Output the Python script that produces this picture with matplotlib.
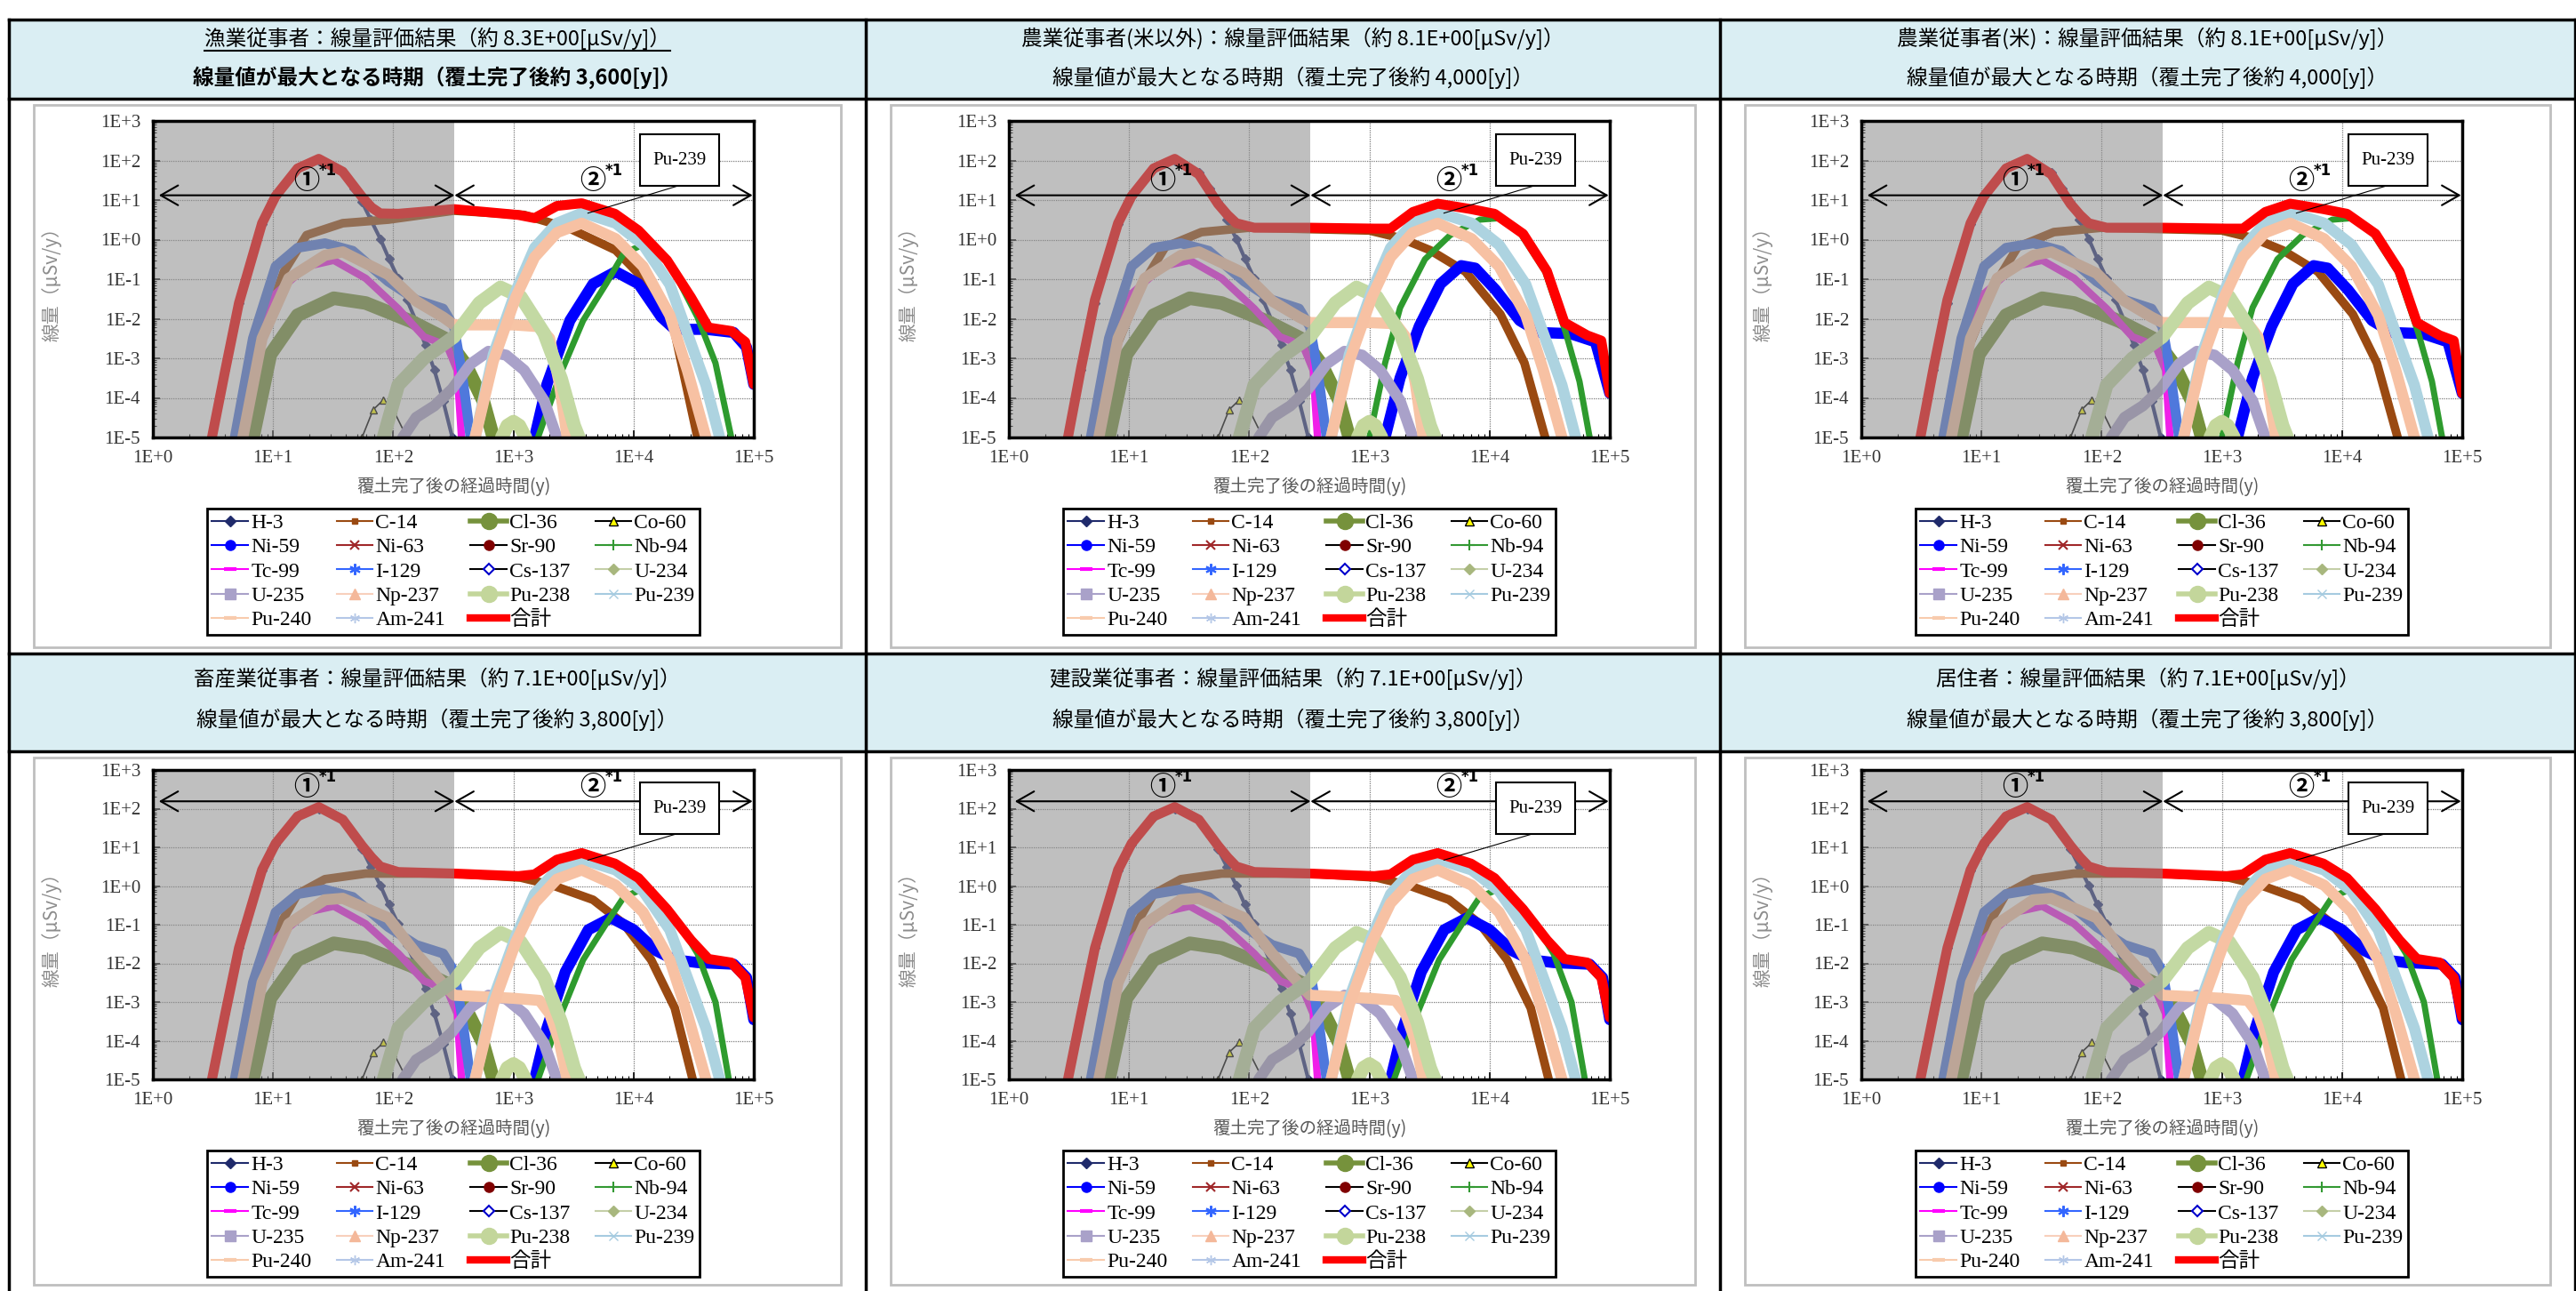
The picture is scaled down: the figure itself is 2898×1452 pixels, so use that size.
import numpy as np
import matplotlib
matplotlib.use('Agg')
import matplotlib.pyplot as plt
from matplotlib.lines import Line2D
from matplotlib.patches import Rectangle
from matplotlib.ticker import FixedLocator, FuncFormatter, LogLocator, NullFormatter

plt.rcParams['font.family'] = ['Noto Sans CJK JP', 'DejaVu Sans']

# ---- data (time in years, dose in uSv/y) ----
NUCLIDES = ['H-3', 'C-14', 'Cl-36', 'Co-60', 'Ni-59', 'Ni-63', 'Sr-90', 'Nb-94',
            'Tc-99', 'I-129', 'Cs-137', 'U-234', 'U-235', 'Np-237', 'Pu-238',
            'Pu-239', 'Pu-240', 'Am-241', '合計']

H3_T = [3.1, 4.0, 5.2, 8.1, 10.5, 16, 24, 38, 47, 55, 65, 78, 92, 110, 130, 155, 185, 220, 260, 310]
H3_D = [1e-5, 5e-4, 2.5e-2, 2.5, 12, 60, 95, 50, 20, 8.9, 3.2, 1.05, 0.33, 0.105, 0.03,
        8.7e-3, 2.2e-3, 5e-4, 8.5e-5, 1e-5]

CL36 = ([6.8, 9.5, 16, 32, 59, 140, 280, 400, 560, 680],
        [1e-5, 1.25e-3, 0.0123, 0.033, 0.025, 8.7e-3, 3e-3, 7e-4, 8.5e-5, 1e-5])
CO60 = ([55, 68, 83, 100, 130], [1e-5, 5e-5, 9e-5, 5e-5, 1e-5])
TC99 = ([5, 6.8, 10.5, 19, 32, 59, 110, 180, 280, 340, 370],
        [1e-5, 1.25e-3, 0.043, 0.21, 0.3, 0.105, 0.018, 3.5e-3, 2.1e-3, 5e-4, 1e-5])
I129 = ([4.8, 6.8, 10.5, 16, 27, 46, 91, 155, 260, 320, 370, 440],
        [1e-5, 3.2e-3, 0.21, 0.62, 0.81, 0.52, 0.087, 0.03, 0.018, 6.3e-3, 5e-4, 1e-5])
U234 = ([800, 890, 1000, 1120, 1260], [1e-5, 2e-5, 2.5e-5, 2e-5, 1e-5])
U235 = ([120, 155, 220, 310, 440, 620, 870, 1230, 1800, 2300],
        [1e-5, 3.2e-5, 6.3e-5, 1.7e-4, 7.2e-4, 1.5e-3, 1.2e-3, 5e-4, 8.5e-5, 1e-5])
PU238 = ([83, 110, 180, 320, 520, 780, 1150, 1800, 2500, 3200, 3500],
         [1e-5, 2.1e-4, 1e-3, 3.5e-3, 0.025, 0.062, 0.036, 4.3e-3, 3e-4, 2e-5, 1e-5])
PU239 = ([480, 680, 1050, 1500, 2300, 3800, 7100, 12000, 20000, 28000, 40000, 52000],
         [1e-5, 1.25e-3, 0.051, 0.62, 2.6, 4.8, 2.6, 0.74, 0.074, 4.3e-3, 2.1e-4, 1e-5])
PU240 = ([480, 680, 1050, 1500, 2300, 3700, 7100, 12000, 20000, 28000, 40000],
         [1e-5, 8.5e-4, 0.036, 0.36, 1.5, 2.6, 1.05, 0.21, 0.0123, 5e-4, 1e-5])

# A: fishery, B: agriculture, C: livestock / construction / resident
C14_A = ([5.6, 8.1, 12.3, 19, 38, 91, 320, 1230, 2950, 7100, 14000, 22000, 34000],
         [1e-5, 4.5e-3, 0.155, 1.3, 2.6, 3.2, 5.4, 4.2, 1.9, 0.54, 0.065, 4.5e-3, 1e-5])
C14_B = ([5.4, 7.8, 12.6, 20, 40, 100, 1000, 1800, 3200, 6300, 12300, 19500, 29000],
         [1e-5, 1.9e-3, 6.5e-2, 0.65, 1.55, 2.0, 1.7, 1.1, 0.54, 0.155, 1.3e-2, 7.6e-4, 1e-5])
C14_C = ([5.6, 8.1, 11.5, 16, 27, 59, 320, 1150, 2100, 4600, 8300, 14000, 22000, 31000],
         [1e-5, 7e-3, 0.105, 0.62, 1.5, 2.1, 2.1, 1.65, 1.05, 0.44, 0.105, 0.0123, 7e-4, 1e-5])

NP237_T = [5.6, 8.1, 13.5, 27, 38, 91, 155, 260, 320, 1000, 1650, 2000, 2400, 2800]
NP237_A = [1e-5, 3.2e-3, 0.105, 0.4, 0.49, 0.13, 0.028, 0.011, 7e-3, 7e-3, 6.3e-3, 3.2e-3, 2.5e-4, 1e-5]
NP237_B = [1e-5, 3.2e-3, 0.105, 0.4, 0.49, 0.14, 0.028, 0.011, 8e-3, 8e-3, 7.5e-3, 3.5e-3, 2.5e-4, 1e-5]
NP237_C = [1e-5, 3.2e-3, 0.105, 0.44, 0.48, 0.15, 0.018, 3e-3, 1.5e-3, 1.25e-3, 1.1e-3, 5e-4, 1e-4, 1e-5]

NI59_A = ([1500, 1900, 2950, 4600, 7100, 11000, 17000, 22000, 40000, 68000, 87000, 100000],
          [1e-5, 2.2e-4, 9e-3, 0.076, 0.155, 0.076, 0.011, 5.4e-3, 5.4e-3, 4.5e-3, 1.9e-3, 2.2e-4])
NI59_B = ([1350, 1800, 2600, 3900, 5800, 7600, 11200, 17800, 26000, 47000, 76000, 100000],
          [1e-5, 3.2e-4, 6.5e-3, 0.076, 0.22, 0.19, 0.054, 9e-3, 4.5e-3, 4.2e-3, 2.6e-3, 1.3e-4])
NI59_C = ([1500, 1900, 2700, 4200, 6500, 10000, 15500, 22000, 34000, 68000, 87000, 100000],
          [1e-5, 2.1e-4, 6e-3, 0.074, 0.15, 0.074, 0.021, 0.0123, 0.0105, 9.5e-3, 4.3e-3, 3.5e-4])

NB94_A = ([1600, 2500, 3800, 5900, 8300, 12600, 20000, 34000, 48000, 65000],
          [1e-5, 4.5e-4, 9e-3, 0.076, 0.45, 0.8, 0.25, 0.011, 7.6e-4, 1e-5])
NB94_B = ([1000, 1350, 1800, 2900, 4700, 8300, 12300, 17800, 29000, 43000, 56000, 68000],
          [1e-5, 7.6e-4, 0.019, 0.32, 1.3, 3.2, 3.5, 1.55, 0.155, 4.5e-3, 2.6e-4, 1e-5])
NB94_C = ([1600, 2500, 3800, 5900, 8300, 12600, 24000, 34000, 48000, 62000],
          [1e-5, 5e-4, 0.0123, 0.105, 0.52, 0.9, 0.105, 0.018, 1e-3, 1e-5])

TOTAL_T = [3.1, 4.0, 5.2, 8.1, 10.5, 16, 24, 38, 55, 66, 78, 110, 320, 1100, 1500, 2300, 3700,
           7000, 11000, 19000, 30000, 42000, 65000, 85000, 100000]
TOTAL_A = [1e-5, 5e-4, 2.5e-2, 2.6, 12.6, 63, 110, 52, 12, 6.5, 4.6, 4.5, 5.9, 4.2, 3.5, 7.1, 8.3,
           4.5, 1.7, 0.3, 0.035, 6e-3, 4.9e-3, 2.6e-3, 2.2e-4]
TOTAL_B = [1e-5, 6e-4, 3e-2, 2.6, 12.6, 63, 110, 45, 8, 4.2, 2.6, 2.0, 2.0, 1.9, 1.9, 5.0, 8.1,
           5.9, 4.5, 1.4, 0.16, 8e-3, 3.8e-3, 2.8e-3, 1.3e-4]
TOTAL_C = [1e-5, 5e-4, 2.5e-2, 2.6, 12.6, 63, 110, 52, 11, 5.5, 3.2, 2.3, 2.1, 1.8, 2.0, 4.8, 7.1,
           3.8, 1.6, 0.25, 0.04, 0.013, 0.0105, 0.0043, 4e-4]

TITLE_1 = ['漁業従事者：線量評価結果（約 8.3E+00[μSv/y]）',
           '農業従事者(米以外)：線量評価結果（約 8.1E+00[μSv/y]）',
           '農業従事者(米)：線量評価結果（約 8.1E+00[μSv/y]）',
           '畜産業従事者：線量評価結果（約 7.1E+00[μSv/y]）',
           '建設業従事者：線量評価結果（約 7.1E+00[μSv/y]）',
           '居住者：線量評価結果（約 7.1E+00[μSv/y]）']
TITLE_2 = ['線量値が最大となる時期（覆土完了後約 3,600[y]）',
           '線量値が最大となる時期（覆土完了後約 4,000[y]）',
           '線量値が最大となる時期（覆土完了後約 4,000[y]）',
           '線量値が最大となる時期（覆土完了後約 3,800[y]）',
           '線量値が最大となる時期（覆土完了後約 3,800[y]）',
           '線量値が最大となる時期（覆土完了後約 3,800[y]）']
SCENARIO = ['A', 'B', 'B', 'C', 'C', 'C']

SHARED = {'H-3': (H3_T, H3_D), 'Cl-36': CL36, 'Co-60': CO60, 'Tc-99': TC99,
          'I-129': I129, 'U-234': U234, 'U-235': U235, 'Pu-238': PU238,
          'Pu-239': PU239, 'Pu-240': PU240}
BY_SCENARIO = {
    'A': {'C-14': C14_A, 'Np-237': (NP237_T, NP237_A), 'Ni-59': NI59_A,
          'Nb-94': NB94_A, '合計': (TOTAL_T, TOTAL_A)},
    'B': {'C-14': C14_B, 'Np-237': (NP237_T, NP237_B), 'Ni-59': NI59_B,
          'Nb-94': NB94_B, '合計': (TOTAL_T, TOTAL_B)},
    'C': {'C-14': C14_C, 'Np-237': (NP237_T, NP237_C), 'Ni-59': NI59_C,
          'Nb-94': NB94_C, '合計': (TOTAL_T, TOTAL_C)},
}

# ---- styles ----
CURVE_STYLE = {
    'H-3': dict(color='#27337A', lw=3, marker='D', ms=5),
    'C-14': dict(color='#9A4A12', lw=7),
    'Cl-36': dict(color='#76923C', lw=11),
    'Co-60': dict(color='black', lw=1.2, marker='^', ms=6, mfc='#FFFF00', mec='black'),
    'Ni-59': dict(color='#0000FF', lw=9),
    'Nb-94': dict(color='#2E9B2E', lw=5),
    'Tc-99': dict(color='#F020E8', lw=6),
    'I-129': dict(color='#4F78DC', lw=8),
    'U-234': dict(color='#C4D79B', lw=11),
    'U-235': dict(color='#A9A1C9', lw=9),
    'Np-237': dict(color='#F7C4A5', lw=9),
    'Pu-238': dict(color='#C3D9A3', lw=11),
    'Pu-239': dict(color='#ADD3E0', lw=9),
    'Pu-240': dict(color='#F7C1A3', lw=9),
    '合計': dict(color='#FF0000', lw=8),
}
LEG_STYLE = {
    'H-3': dict(color='#1F2A6B', marker='D', ms=6),
    'C-14': dict(color='#9A4A12', marker='s', ms=5),
    'Cl-36': dict(color='#76923C', marker='o', ms=13, lw=4),
    'Co-60': dict(color='black', marker='^', ms=7, mfc='#FFFF00', mec='black'),
    'Ni-59': dict(color='#0000FF', marker='o', ms=8),
    'Ni-63': dict(color='#A0282A', marker='x', ms=7, mew=1.5),
    'Sr-90': dict(color='black', marker='o', ms=8, mfc='#800000', mec='#800000'),
    'Nb-94': dict(color='#339933', marker='+', ms=9, mew=1.5),
    'Tc-99': dict(color='#FF00FF', marker='_', ms=10, mew=3),
    'I-129': dict(color='#3366FF', marker=(6, 2, 0), ms=9, mew=1.5),
    'Cs-137': dict(color='black', marker='D', ms=6, mfc='white', mec='#0000CC', mew=1.5),
    'U-234': dict(color='#C4CFA8', marker='D', ms=6, mfc='#A8B77E', mec='#A8B77E'),
    'U-235': dict(color='#A9A1C9', marker='s', ms=8),
    'Np-237': dict(color='#F8D0BC', marker='^', ms=8, mfc='#F4B89A', mec='#F4B89A'),
    'Pu-238': dict(color='#C3D69B', marker='o', ms=13, lw=4),
    'Pu-239': dict(color='#A6CBE0', marker='x', ms=7),
    'Pu-240': dict(color='#F8CBAD', marker='_', ms=10, mew=3),
    'Am-241': dict(color='#B4C7E7', marker=(6, 2, 0), ms=8),
    '合計': dict(color='#FF0000', lw=6),
}

W, H = 2898, 1452
COL_X = [10, 974, 1935, 2897]
ROW_Y = [22, 111, 735, 845, 1452]
PLOT_X = [172, 1135, 2094]
PLOT_Y = [136, 866]
PLOT_W = 676
PLOT_H = [356, 348]
SERIF = ['Liberation Serif', 'Noto Sans CJK JP']


def fig_rect(x, y, w, h):
    return [x / W, 1 - (y + h) / H, w / W, h / H]


def e_fmt(v, pos):
    return f'1E{int(round(np.log10(v))):+d}'


fig = plt.figure(figsize=(W / 100, H / 100), dpi=100)
bg = fig.add_axes([0, 0, 1, 1])
bg.set_xlim(0, W)
bg.set_ylim(H, 0)
bg.axis('off')

for r in range(2):
    top, bot = ROW_Y[2 * r], ROW_Y[2 * r + 1]
    bg.add_patch(Rectangle((COL_X[0], top), COL_X[-1] - COL_X[0], bot - top,
                           fc='#DAEEF3', ec='none'))
for y in ROW_Y[:-1]:
    bg.plot([COL_X[0], COL_X[-1]], [y, y], color='black', lw=2.5)
for x in COL_X:
    bg.plot([x, x], [ROW_Y[0], H], color='black', lw=2.5)

# legend order: matplotlib fills columns, reference reads by rows
order = []
for c in range(4):
    order += NUCLIDES[c::4]

title_texts = []
for i in range(6):
    r, c = divmod(i, 3)
    cx = (COL_X[c] + COL_X[c + 1]) / 2
    htop = ROW_Y[2 * r]
    y1, y2 = (htop + 21, htop + 65) if r == 0 else (htop + 28, htop + 74)
    t1 = fig.text(cx / W, 1 - y1 / H, TITLE_1[i], ha='center', va='center', fontsize=17)
    fig.text(cx / W, 1 - y2 / H, TITLE_2[i], ha='center', va='center', fontsize=17,
             fontweight='bold' if i == 0 else 'normal')
    title_texts.append(t1)

    # inner chart frame
    ctop = ROW_Y[2 * r + 1]
    cbot = ROW_Y[2 * r + 2]
    bg.add_patch(Rectangle((COL_X[c] + 28, ctop + 7), COL_X[c + 1] - COL_X[c] - 56,
                           cbot - ctop - 14, fc='white', ec='#BFBFBF', lw=2))

    ph = PLOT_H[r]
    ax = fig.add_axes(fig_rect(PLOT_X[c], PLOT_Y[r], PLOT_W, ph))
    ax.set_xscale('log')
    ax.set_yscale('log')
    ax.set_xlim(1, 1e5)
    ax.set_ylim(1e-5, 1e3)

    curves = dict(SHARED)
    curves.update(BY_SCENARIO[SCENARIO[i]])
    for k, name in enumerate(NUCLIDES):
        if name not in curves:
            continue
        t, d = curves[name]
        ax.plot(t, d, solid_capstyle='round', solid_joinstyle='round',
                zorder=3 + k * 0.01, **CURVE_STYLE[name])

    ax.axvspan(1, 10 ** 2.51, color='#8C8C8C', alpha=0.55, lw=0, zorder=5)

    ax.xaxis.set_major_locator(FixedLocator([10.0 ** e for e in range(0, 6)]))
    ax.yaxis.set_major_locator(FixedLocator([10.0 ** e for e in range(-5, 4)]))
    ax.xaxis.set_minor_locator(LogLocator(base=10, subs=np.arange(2, 10)))
    ax.yaxis.set_minor_locator(LogLocator(base=10, subs=np.arange(2, 10)))
    ax.xaxis.set_minor_formatter(NullFormatter())
    ax.yaxis.set_minor_formatter(NullFormatter())
    ax.xaxis.set_major_formatter(FuncFormatter(e_fmt))
    ax.yaxis.set_major_formatter(FuncFormatter(e_fmt))
    ax.tick_params(which='both', direction='in', color='black')
    ax.tick_params(which='major', length=6, width=1.2, pad=10)
    ax.tick_params(which='minor', length=3, width=0.8)
    for lab in ax.get_xticklabels() + ax.get_yticklabels():
        lab.set_fontfamily(SERIF)
        lab.set_fontsize(15)
        lab.set_color('#333333')
    ax.grid(True, which='major', color='#7F7F7F', linestyle=(0, (1, 1)), lw=0.9)
    ax.set_axisbelow(True)
    for sp in ax.spines.values():
        sp.set_linewidth(2.5)
        sp.set_color('black')
        sp.set_zorder(8)

    # period arrows and labels
    ya = 10 ** 1.12 if r == 0 else 10 ** 2.19
    yl = 10 ** 1.5 if r == 0 else 10 ** 2.57
    arrow = dict(arrowstyle='<->,head_length=0.35,head_width=0.2', lw=1.5,
                 color='black', shrinkA=0, shrinkB=0, mutation_scale=40)
    ax.annotate('', xy=(10 ** 2.51, ya), xytext=(10 ** 0.05, ya), arrowprops=arrow, zorder=9)
    ax.annotate('', xy=(10 ** 4.99, ya), xytext=(10 ** 2.51, ya), arrowprops=arrow, zorder=9)
    for xl, s in ((10 ** 1.28, '①'), (10 ** 3.66, '②')):
        ax.text(xl, yl, s, fontsize=21, fontweight='bold', ha='center', va='center', zorder=9)
        ax.annotate('*1', xy=(xl, yl), xytext=(10, 4), textcoords='offset points',
                    fontsize=12, fontweight='bold', fontfamily='DejaVu Sans', zorder=9)

    # Pu-239 callout
    ax.plot([10 ** 4.36, 10 ** 3.62], [10 ** 1.35, 10 ** 0.67], color='black', lw=0.8, zorder=9)
    ax.add_patch(Rectangle((10 ** 4.05, 10 ** 1.35), 10 ** 4.71 - 10 ** 4.05,
                           10 ** 2.67 - 10 ** 1.35, fc='white', ec='black', lw=1.5, zorder=10))
    ax.text(10 ** 4.38, 10 ** 2.0, 'Pu-239', ha='center', va='center', fontsize=15,
            fontfamily=SERIF, zorder=11)

    pcx = PLOT_X[c] + PLOT_W / 2
    pbot = PLOT_Y[r] + ph
    fig.text(pcx / W, 1 - (pbot + 55) / H, '覆土完了後の経過時間(y)', ha='center', va='center',
             fontsize=14, color='#595959')
    fig.text((COL_X[c] + 48) / W, 1 - (PLOT_Y[r] + ph / 2) / H, '線量（μSv/y）',
             ha='center', va='center', rotation=90, fontsize=15, color='#8C8C8C')

    handles = [Line2D([], [], **dict(dict(lw=1.5), **LEG_STYLE[n])) for n in order]
    leg = fig.legend(handles, order, loc='upper center', ncol=4,
                     bbox_to_anchor=(pcx / W, 1 - (pbot + 68) / H),
                     prop={'family': SERIF, 'size': 17}, frameon=True, fancybox=False,
                     edgecolor='black', framealpha=1, handlelength=1.7, handletextpad=0.15,
                     columnspacing=1.2, labelspacing=0.24, borderpad=0.25)
    leg.get_frame().set_linewidth(2)

# underline for the first title
fig.canvas.draw()
bb = title_texts[0].get_window_extent()
fig.add_artist(Line2D([bb.x0 / W, bb.x1 / W], [(bb.y0 - 1) / H, (bb.y0 - 1) / H],
                      transform=fig.transFigure, color='black', lw=1.5))

fig.savefig('out.png', dpi=100)
